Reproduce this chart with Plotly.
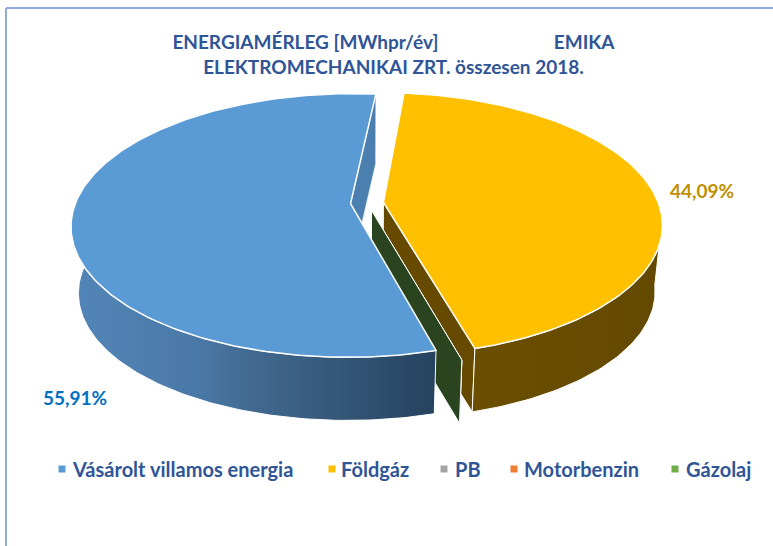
import math
import plotly.graph_objects as go

# ---- data ----
categories = ["Vásárolt villamos energia", "Földgáz", "PB", "Motorbenzin", "Gázolaj"]
shares = [55.91, 44.09, 0.0, 0.0, 0.0]
share_labels = ["55,91%", "44,09%", None, None, None]

# ---- style ----
top_colors = ["#5B9BD5", "#FFC000", "#A5A5A5", "#ED7D31", "#70AD47"]
flat_wall_colors = ["#4A7FB0", "#654A00", "#555555", "#7A3F18", "#2A4420"]
wall_gradients = [
    [[0, "#5286B8"], [0.35, "#4A78A6"], [0.5, "#41698F"], [1, "#26425E"]],
    [[0, "#6B4F00"], [1, "#634900"]],
    None, None, None,
]
label_colors = ["#0070C0", "#BF9000"]
label_xy = [(75, 397), (702, 190)]
legend_swatch_x = [62, 332, 444, 514, 675]
legend_text_x = [70, 339, 453, 522, 684]
FONT = "Lato"
TEXT = "#2F5597"
TITLE = ("ENERGIAMÉRLEG [MWhpr/év]" + "\u00a0" * 25 + "EMIKA<br>"
         "ELEKTROMECHANIKAI ZRT. összesen 2018.")

# ---- projection of the tilted pie ----
X0, Y0, A, B, P = 367.0, 203.0, 275.0, 128.0, 0.165
DEPTH_Y, SHRINK = 67.0, 0.975
EXPLODE = 0.060
FIRST_ANGLE = 164.3  # clockwise from the top, degrees


def project(u, v, bottom=False):
    w = 1 + P * v
    s = SHRINK if bottom else 1.0
    return (X0 + s * A * u / w, Y0 + (DEPTH_Y if bottom else 0) - s * B * v / w)


def slice_geometry():
    out = []
    a = FIRST_ANGLE
    total = sum(shares)
    for val in shares:
        span = val / total * 360
        mid = math.radians(a + span / 2)
        off = (EXPLODE * math.sin(mid), EXPLODE * math.cos(mid))
        out.append((a, a + span, off))
        a += span
    return out


def rim(a0, a1, off, bottom=False, step=1.0):
    n = max(1, int(abs(a1 - a0) / step))
    pts = []
    for i in range(n + 1):
        t = math.radians(a0 + (a1 - a0) * i / n)
        pts.append(project(off[0] + math.sin(t), off[1] + math.cos(t), bottom))
    return pts


def add_poly(fig, pts, color=None, gradient=None, lw=1.0):
    xs = [p[0] for p in pts] + [pts[0][0]]
    ys = [p[1] for p in pts] + [pts[0][1]]
    kw = {}
    if gradient:
        kw["fillgradient"] = dict(type="horizontal", colorscale=gradient,
                                  start=min(xs), stop=max(xs))
    else:
        kw["fillcolor"] = color
    fig.add_trace(go.Scatter(x=xs, y=ys, mode="lines", fill="toself",
                             line=dict(color="white", width=lw),
                             hoverinfo="skip", showlegend=False, **kw))


def radial_wall(fig, angle, off, color, lw):
    t = math.radians(angle)
    rx, ry = off[0] + math.sin(t), off[1] + math.cos(t)
    add_poly(fig, [project(*off), project(rx, ry), project(rx, ry, True), project(*off, True)], color, lw=lw)


fig = go.Figure()
geo = slice_geometry()
(blue0, blue1, blue_off), (yel0, yel1, yel_off) = geo[0], geo[1]

# blue's radial wall at the far side
radial_wall(fig, blue1, blue_off, flat_wall_colors[0], 0.5)

# yellow: wall along its near edge, outer wall, top
radial_wall(fig, yel1, yel_off, flat_wall_colors[1], 1)
add_poly(fig, rim(yel1 - 67, yel1, yel_off) + rim(yel1, yel1 - 67, yel_off, True),
         gradient=wall_gradients[1], lw=1)
add_poly(fig, [project(*yel_off)] + rim(yel0, yel1, yel_off), top_colors[1], lw=1.5)

# zero-width slices: only a radial wall shows
for i in (2, 3, 4):
    radial_wall(fig, geo[i][0], geo[i][2], flat_wall_colors[i], 1)

# blue: outer wall + top
add_poly(fig, rim(blue0, blue0 + 111, blue_off) + rim(blue0 + 111, blue0, blue_off, True),
         gradient=wall_gradients[0], lw=1)
add_poly(fig, [project(*blue_off)] + rim(blue0, blue1, blue_off), top_colors[0], lw=1.5)

# legend
LEG_Y = 469
for i, c in enumerate(categories):
    fig.add_trace(go.Scatter(x=[legend_swatch_x[i]], y=[LEG_Y], mode="markers", name=c,
                             marker=dict(symbol="square", size=7, color=top_colors[i]),
                             showlegend=False, hoverinfo="name"))
    fig.add_annotation(x=legend_text_x[i], y=LEG_Y, text=f"<b>{c}</b>", showarrow=False,
                       xanchor="left", yanchor="middle",
                       font=dict(family=FONT, size=20, color=TEXT))

# share labels
for lab, xy, col in zip(share_labels, label_xy, label_colors):
    fig.add_annotation(x=xy[0], y=xy[1], text=f"<b>{lab}</b>", showarrow=False,
                       font=dict(family=FONT, size=19, color=col))

fig.update_layout(
    width=773, height=546, margin=dict(l=0, r=0, t=0, b=0),
    paper_bgcolor="white", plot_bgcolor="white", showlegend=False,
    title=dict(text=f"<b>{TITLE}</b>", x=0.509, xanchor="center", y=0.91, yanchor="top",
               font=dict(family=FONT, size=19, color=TEXT)),
    xaxis=dict(range=[0, 773], visible=False, fixedrange=True),
    yaxis=dict(range=[546, 0], visible=False, fixedrange=True),
    shapes=[
        dict(type="line", xref="x", yref="y", x0=6, y0=8, x1=773, y1=8,
             line=dict(color="#8FAADC", width=2)),
        dict(type="line", xref="x", yref="y", x0=6, y0=8, x1=6, y1=546,
             line=dict(color="#8FAADC", width=2)),
    ],
)
fig.write_html("out.html", config={"displayModeBar": False},
               post_script="document.body.style.margin='0';document.body.style.overflow='hidden';")
